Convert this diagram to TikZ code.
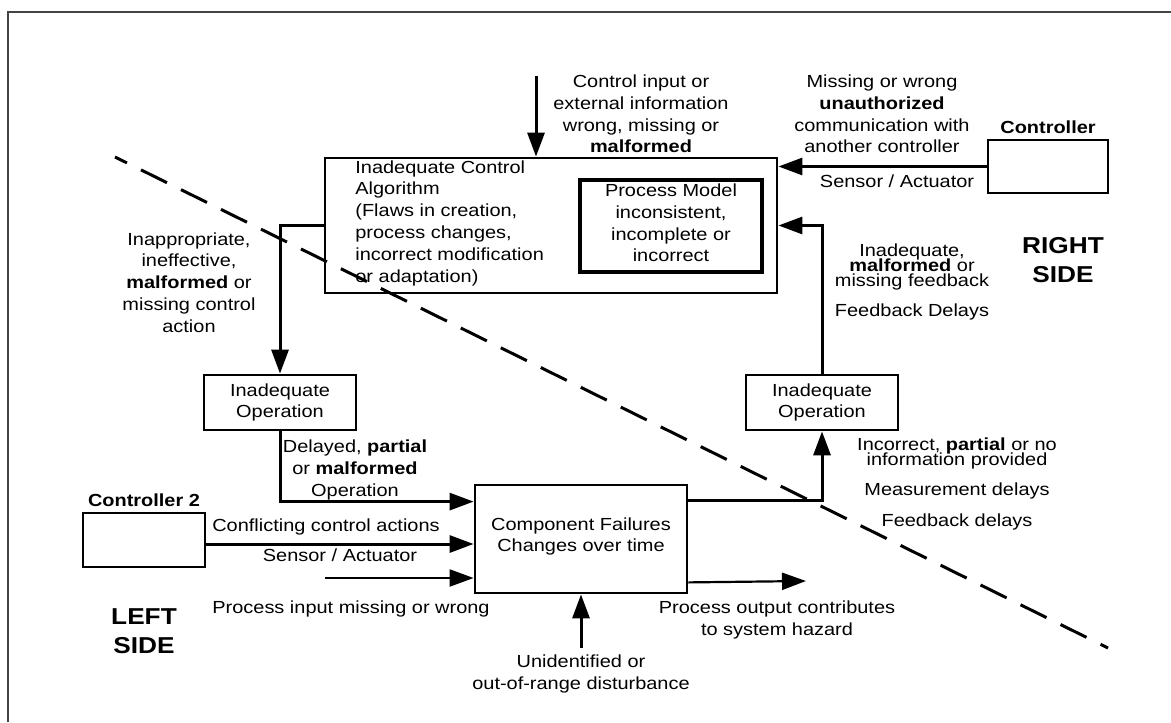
\documentclass[tikz,border=0pt]{standalone}
\usepackage{fontspec}
\setmainfont[FakeStretch=1.14]{Liberation Sans}
\usetikzlibrary{positioning, arrows.meta}
\definecolor{framegray}{HTML}{444444}
\newcommand{\tightlines}{\lineskiplimit=-20pt\relax\lineskip=0pt\relax}

\begin{document}
\begin{tikzpicture}[
  x=0.5pt, y=-0.5pt,
  every node/.style={font=\fontsize{8.75}{10.9}\selectfont, inner sep=0pt, align=center},
  >={Triangle[length=12pt, width=8.5pt]},
  box/.style={draw, line width=1.4pt},
  arrow/.style={->, line width=1.5pt},
  thinarrow/.style={->, line width=1.1pt},
  tight/.style={font=\fontsize{8.75}{7.35}\selectfont\tightlines},
  side/.style={font=\fontsize{11.5}{14.5}\selectfont\bfseries},
  cut/.style={line width=1.5pt, dash pattern=on 14.5pt off 7.8pt, dash phase=7.8pt}
]
\useasboundingbox (0,0) rectangle (1171,722);

% Frame
\draw[framegray, line width=0.8pt] (8,722) -- (8,12) -- (1171,12);

% Controller and process model
\node[box, minimum width=226pt, minimum height=67.5pt] (alg) at (551,225.5) {};
\node[anchor=west, align=left] (algtxt) at (355,223)
  {Inadequate Control\\Algorithm\\(Flaws in creation,\\process changes,\\incorrect modification\\or adaptation)};
\node[box, line width=2pt, minimum width=91pt, minimum height=46pt] (pm) at (671,226) {};
\node (pmtxt) at (671,223) {Process Model\\inconsistent,\\incomplete or\\incorrect};

% Other controllers
\node[box, minimum width=60pt, minimum height=26.5pt] (ctrl) at (1048,166.5) {};
\node[font=\fontsize{8.75}{10.9}\selectfont\bfseries, above=2.5pt of ctrl] (ctrllbl) {Controller};
\node[box, minimum width=61pt, minimum height=27pt] (ctrltwo) at (144,540) {};
\node[font=\fontsize{8.75}{10.9}\selectfont\bfseries, above=2.5pt of ctrltwo] (ctrltwolbl) {Controller 2};

% Actuator / sensor operations
\node[box, minimum width=76pt, minimum height=27.5pt] (leftop) at (280,402.5) {Inadequate\\Operation};
\node[box, minimum width=76pt, minimum height=27.5pt] (rightop) at (822,402.5) {Inadequate\\Operation};

% Controlled process
\node[box, minimum width=106pt, minimum height=54pt] (cf) at (581,539) {};
\node (cftxt) at (581,536.5) {Component Failures\\Changes over time};

% Free ends
\coordinate (ctlin) at (536,76);
\coordinate (procin) at (325,578);
\coordinate (procout) at (806,581);
\coordinate (dist) at (581,648);
\coordinate (cutstart) at (115,157);
\coordinate (cutend) at (1108,648);

% Connectors
\draw[arrow] (ctlin) -- (ctlin |- alg.north);
\draw[arrow] (ctrl.west) -- (ctrl.west -| alg.east);
\draw[arrow] (rightop.north) |- (alg.east);
\draw[arrow] (alg.west) -| (leftop.north);
\draw[arrow] (leftop.south) |- ([yshift=-9pt]cf.north west);
\draw[arrow] ([yshift=-2pt]ctrltwo.east) -- ([yshift=-2pt]ctrltwo.east -| cf.west);
\draw[thinarrow] (procin) -- (procin -| cf.west);
\draw[arrow] ([yshift=-8.5pt]cf.north east) -| (rightop.south);
\draw[thinarrow] ([yshift=6pt]cf.south east) -- (procout);
\draw[arrow] (dist) -- (dist |- cf.south);

% Labels
\node (ctlinlbl) at (641,114) {Control input or\\external information\\wrong, missing or\\\textbf{malformed}};
\node (commlbl) at (882,114) {Missing or wrong\\\textbf{unauthorized}\\communication with\\another controller};
\node (sensetop) at (897,181) {Sensor / Actuator};
\node[tight] (fblbl) at (912,267) {Inadequate,\\\textbf{malformed} or\\missing feedback};
\node (fbdelay) at (912,312) {Feedback Delays};
\node[side] (rightside) at (1063,260.5) {RIGHT\\SIDE};
\node (calbl) at (189,282.5) {Inappropriate,\\ineffective,\\\textbf{malformed} or\\missing control\\action};
\node (oplbl) at (355,470) {Delayed, \textbf{partial}\\or \textbf{malformed}\\Operation};
\node (conflbl) at (326,527) {Conflicting control actions};
\node (senselow) at (340,555) {Sensor / Actuator};
\node (procinlbl) at (351,609) {Process input missing or wrong};
\node[side] (leftside) at (144,631) {LEFT\\SIDE};
\node (procoutlbl) at (777,620) {Process output contributes\\to system hazard};
\node (distlbl) at (581,674) {Unidentified or\\out-of-range disturbance};
\node[tight] (infolbl) at (957,453.3) {Incorrect, \textbf{partial} or no\\information provided};
\node (measlbl) at (957,491) {Measurement delays};
\node (fbdelaylow) at (957,522) {Feedback delays};

% Left / right split
\draw[cut] (cutstart) -- (cutend);

\end{tikzpicture}
\end{document}
